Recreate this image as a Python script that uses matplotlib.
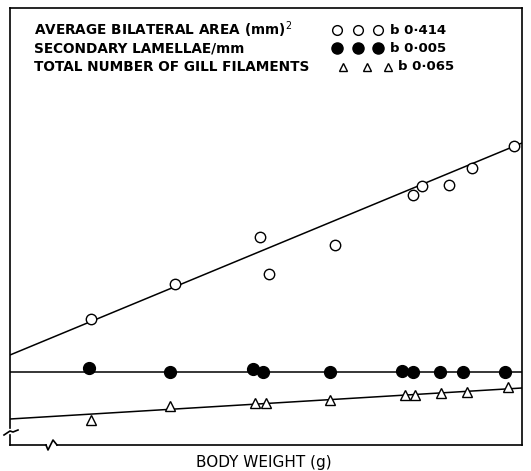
import numpy as np
import matplotlib.pyplot as plt

# body weight (arbitrary chart units, no ticks on the original)
x_area = [81, 165, 250, 259, 325, 403, 412, 439, 462, 504]
y_area = [126, 161, 208, 171, 200, 250, 259, 260, 277, 299]
x_lam = [79, 160, 243, 253, 320, 392, 403, 430, 453, 495]
y_lam = [77, 73, 76, 73, 73, 74, 73, 73, 73, 73]
x_fil = [81, 160, 245, 256, 320, 395, 405, 431, 457, 498]
y_fil = [25, 39, 42, 42, 45, 50, 50, 52, 53, 58]

# fitted lines (intercept, slope)
fit_area = (90, 212 / 512)
fit_lam = (73, 0.0)
fit_fil = (26, 31 / 512)

labels = ["AVERAGE BILATERAL AREA (mm)$^2$", "SECONDARY LAMELLAE/mm",
          "TOTAL NUMBER OF GILL FILAMENTS"]
b_values = ["b 0\u00b7414", "b 0\u00b7005", "b 0\u00b7065"]

fig = plt.figure(figsize=(5.31, 4.71), dpi=100)
ax = fig.add_axes([10 / 531, 26 / 471, 512 / 531, 437 / 471])
ax.set_xlim(0, 512)
ax.set_ylim(0, 437)
ax.set_xticks([])
ax.set_yticks([])
for s in ax.spines.values():
    s.set_linewidth(1.2)
ax.spines['left'].set_visible(False)
ax.spines['bottom'].set_visible(False)

xx = np.array([0, 512])
for (a, b) in [fit_area, fit_lam, fit_fil]:
    ax.plot(xx, a + b * xx, color='black', lw=1.1)

ax.plot(x_area, y_area, 'o', mfc='white', mec='black', ms=7.5, mew=1.0)
ax.plot(x_lam, y_lam, 'o', mfc='black', mec='black', ms=8.5)
ax.plot(x_fil, y_fil, '^', mfc='white', mec='black', ms=6.5, mew=1.0)

# broken axes
k = dict(color='black', lw=1.2, clip_on=False)
ax.plot([0, 0], [17, 437], **k)
ax.plot([-6, 0, 3, 8], [10, 14, 13, 15], **k)
ax.plot([0, 0], [0, 10], **k)
ax.plot([0, 36], [0, 0], **k)
ax.plot([36, 38, 43, 47], [0, -5, 5, 0], **k)
ax.plot([47, 512], [0, 0], **k)

# legend block
rows = [415, 397, 378]
mark_x = [[327, 348, 368], [327, 348, 368], [333, 357, 378]]
b_x = [380, 380, 388]
styles = [dict(marker='o', mfc='white', mec='black', ms=7, mew=1.0),
          dict(marker='o', mfc='black', mec='black', ms=8),
          dict(marker='^', mfc='white', mec='black', ms=5.5, mew=1.0)]
for lab, bv, y, mx, bx, st in zip(labels, b_values, rows, mark_x, b_x, styles):
    ax.text(24, y, lab, fontsize=9.8, fontweight='bold', va='center', ha='left')
    ax.plot(mx, [y] * 3, ls='none', **st)
    ax.text(bx, y, bv, fontsize=9.5, fontweight='bold', va='center', ha='left')

fig.text(264 / 531, 1 - 462 / 471, "BODY WEIGHT (g)", fontsize=11,
         ha='center', va='center')

fig.savefig("out.png", dpi=100)
